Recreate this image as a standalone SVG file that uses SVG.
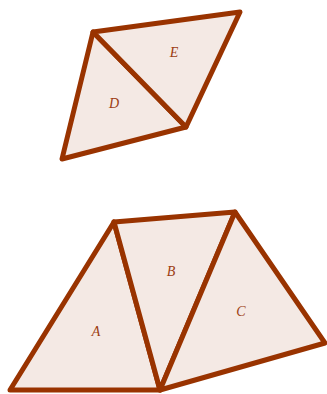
<svg xmlns="http://www.w3.org/2000/svg" width="327" height="394" viewBox="0 0 327 394">
<style>
.t{fill:#f4e9e4;stroke:#993300;stroke-width:5;stroke-linejoin:round;}
.l{font-family:"Liberation Serif",serif;font-style:italic;font-size:14px;fill:#9c3d12;text-anchor:middle;}
</style>
<rect width="327" height="394" fill="#ffffff"/>
<g id="D"><polygon class="t" points="93,32 186,127 62,159"/><text class="l" x="114" y="108">D</text></g>
<g id="E"><polygon class="t" points="93,32 240,12 186,127"/><text class="l" x="174" y="57">E</text></g>
<g id="A"><polygon class="t" points="114,222 160,390 10,390"/><text class="l" x="96" y="336">A</text></g>
<g id="B"><polygon class="t" points="114,222 235,212 160,390"/><text class="l" x="171" y="276">B</text></g>
<g id="C"><polygon class="t" points="235,212 325,343 160,390"/><text class="l" x="241" y="316">C</text></g>
<g id="connectors"></g>
</svg>
